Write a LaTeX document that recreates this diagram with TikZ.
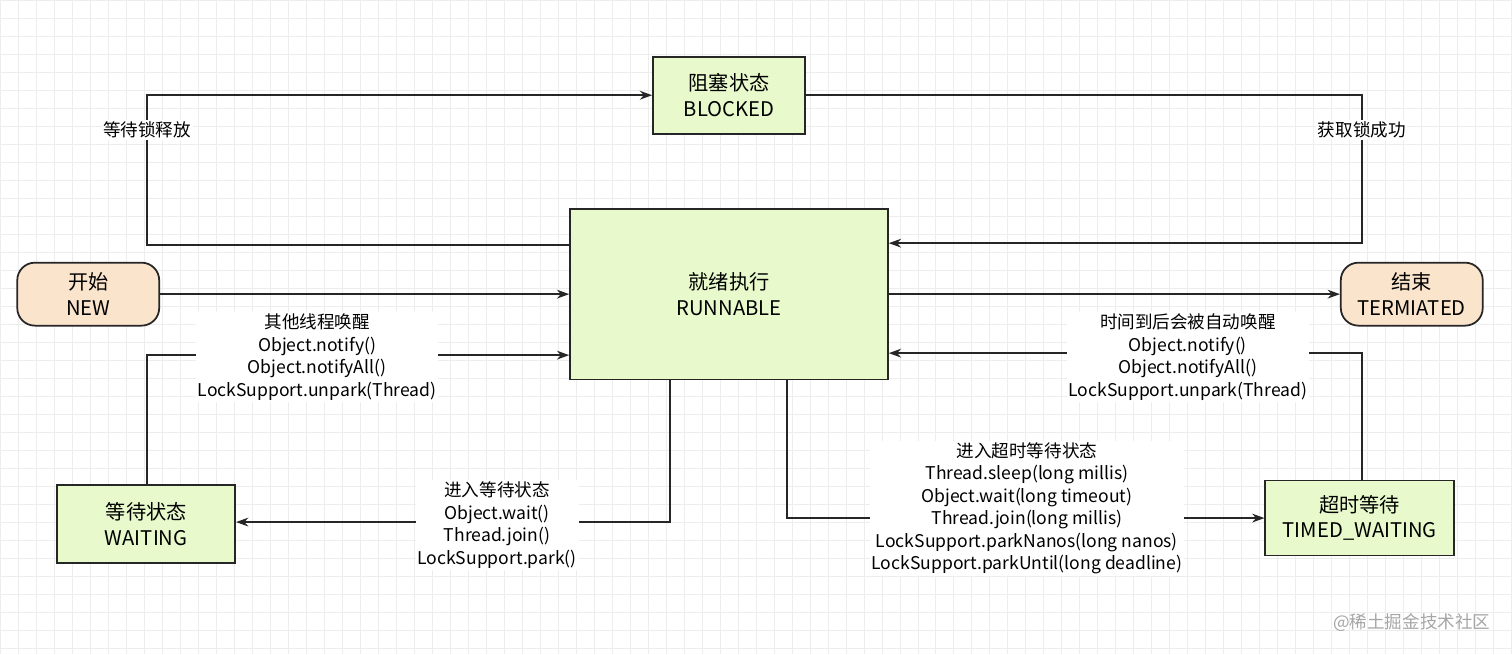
\documentclass[tikz,border=0pt]{standalone}
\usepackage{fontspec}
\setmainfont{Noto Sans CJK SC}
\usetikzlibrary{arrows.meta}

\definecolor{stategreen}{RGB}{232,250,204}
\definecolor{termorange}{RGB}{250,228,204}

\tikzset{
  state/.style={draw=black!85, line width=1pt, fill=stategreen, align=center,
    font=\fontsize{11.5}{14.5}\selectfont, inner sep=0pt},
  term/.style={state, fill=termorange, rounded corners=10pt},
  flow/.style={draw=black!85, line width=1pt, -{Stealth[length=7pt,width=5pt]}},
  lbl/.style={fill=white, align=center, font=\fontsize{10}{12.8}\selectfont, inner sep=1pt}
}

\begin{document}
\begin{tikzpicture}[x=0.02cm, y=-0.02cm]

% background grid
\fill[white] (0,0) rectangle (1512,654);
\draw[black!7, line width=0.3pt, step=0.36cm] (0,0) grid (1512,654);
\useasboundingbox (0,0) rectangle (1512,654);

% states
\node[state, minimum width=3.04cm, minimum height=1.54cm] (blocked) at (729,95) {阻塞状态\\BLOCKED};
\node[state, minimum width=6.36cm, minimum height=3.42cm] (runnable) at (729,294) {就绪执行\\RUNNABLE};
\node[term, minimum width=2.84cm, minimum height=1.26cm] (new) at (88,294) {开始\\NEW};
\node[term, minimum width=2.84cm, minimum height=1.26cm] (end) at (1412,294) {结束\\TERMIATED};
\node[state, minimum width=3.56cm, minimum height=1.56cm] (waiting) at (146,524) {等待状态\\WAITING};
\node[state, minimum width=3.78cm, minimum height=1.5cm] (timed) at (1360,518) {超时等待\\TIMED\_WAITING};

% bends
\coordinate (c1) at (147,245);
\coordinate (c2) at (147,95);
\coordinate (c3) at (1362,95);
\coordinate (c4) at (1362,243);
\coordinate (c5) at (147,355);
\coordinate (c6) at (670,522);
\coordinate (c7) at (787,518);
\coordinate (c8) at (1362,353);

% connectors
\draw[flow] (runnable.west |- c1) -- (c1) -- (c2) -- (blocked.west);
\draw[flow] (blocked.east) -- (c3) -- (c4) -- (runnable.east |- c4);
\draw[flow] (new) -- (runnable);
\draw[flow] (runnable) -- (end);
\draw[flow] (waiting.north -| c5) -- (c5) -- (runnable.west |- c5);
\draw[flow] (runnable.south -| c6) -- (c6) -- (waiting.east |- c6);
\draw[flow] (runnable.south -| c7) -- (c7) -- (timed.west |- c7);
\draw[flow] (timed.north -| c8) -- (c8) -- (runnable.east |- c8);

% labels
\node[lbl] (l1) at (147,130) {等待锁释放};
\node[lbl] (l2) at (1362,130) {获取锁成功};
\node[lbl] (l3) at (317,357) {其他线程唤醒\\Object.notify()\\Object.notifyAll()\\LockSupport.unpark(Thread)};
\node[lbl] (l4) at (497,525) {进入等待状态\\Object.wait()\\Thread.join()\\LockSupport.park()};
\node[lbl] (l5) at (1027,508) {进入超时等待状态\\Thread.sleep(long millis)\\Object.wait(long timeout)\\Thread.join(long millis)\\LockSupport.parkNanos(long nanos)\\LockSupport.parkUntil(long deadline)};
\node[lbl] (l6) at (1188,357) {时间到后会被自动唤醒\\Object.notify()\\Object.notifyAll()\\LockSupport.unpark(Thread)};

% watermark
\node[text=black!35, font=\fontsize{10}{12}\selectfont] (wm) at (1412,623) {@稀土掘金技术社区};

\end{tikzpicture}
\end{document}
